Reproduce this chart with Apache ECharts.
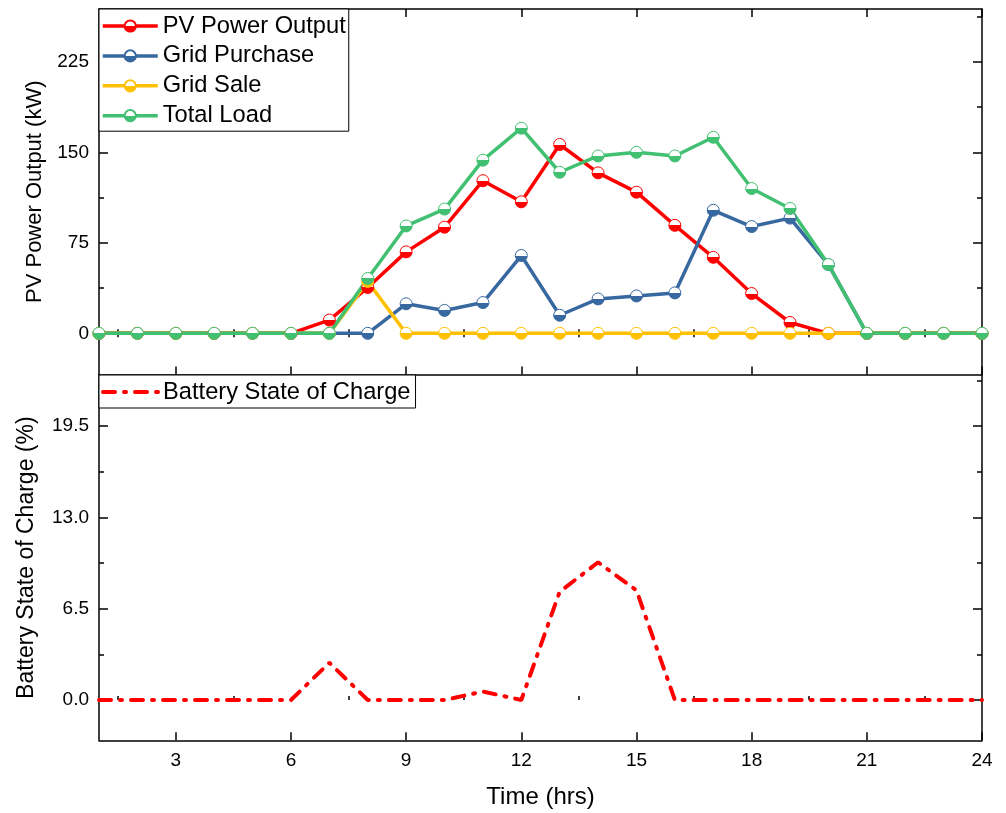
<!DOCTYPE html>
<html>
<head>
<meta charset="utf-8">
<script src="https://cdn.jsdelivr.net/npm/echarts@6/dist/echarts.min.js"></script>
<style>
  html, body { margin: 0; padding: 0; background: #fff; }
  #chart { width: 1006px; height: 813px; }
</style>
</head>
<body>
<div id="chart"></div>
<script>
const hours = [1,2,3,4,5,6,7,8,9,10,11,12,13,14,15,16,17,18,19,20,21,22,23,24];
const pvOutput = [0,0,0,0,0,0,11,38,67.5,88,126.5,109,156.5,133,117,89.5,63,33,9,0,0,0,0,0];
const gridPurchase = [0,0,0,0,0,0,0,0,24.5,19,25.5,64.5,15,28.5,31,33.5,102,88.5,95.5,57,0,0,0,0];
const gridSale = [0,0,0,0,0,0,0,43,0,0,0,0,0,0,0,0,0,0,0,0,0,0,0,0];
const totalLoad = [0,0,0,0,0,0,0,45.5,89,103,143.5,170,133.5,147,150,147,162.5,120,103.5,57,0,0,0,0];
const batterySoc = [0,0,0,0,0,0,2.65,0,0,0,0.6,0,7.7,9.8,7.8,0,0,0,0,0,0,0,0,0];

const xMajor = [3,6,9,12,15,18,21,24];
const xMinor = [1.5,4.5,7.5,10.5,13.5,16.5,19.5,22.5];
const powerMajor = [0,75,150,225];
const powerMinor = [37.5,112.5,187.5,262.5];
const socMajor = [0,6.5,13,19.5];
const socMinor = [3.25,9.75,16.25,22.75];

const FONT = 'Arial, "Liberation Sans", sans-serif';
const chart = echarts.init(document.getElementById('chart'));

function pares(vals) {
  return hours.map((h, i) => [h, vals[i]]);
}

function meioCheio(c) {
  return new echarts.graphic.LinearGradient(0, 0, 0, 1, [
    { offset: 0, color: '#fff' }, { offset: 0.5, color: '#fff' },
    { offset: 0.5, color: c }, { offset: 1, color: c }
  ]);
}

// eixo so com marcas (sem rotulo), usado pras marcas menores e lados opostos
function eixoX(grid, pos, ticks, len, extra) {
  return Object.assign({
    type: 'value', gridIndex: grid, position: pos, min: 1, max: 24,
    axisLine: { show: true, onZero: false, lineStyle: { color: '#000', width: 1.5 } },
    axisTick: { show: true, inside: true, length: len, customValues: ticks, lineStyle: { color: '#000', width: 1.5 } },
    axisLabel: { show: false },
    splitLine: { show: false }
  }, extra || {});
}

function eixoY(grid, pos, min, max, ticks, len, extra) {
  return Object.assign({
    type: 'value', gridIndex: grid, position: pos, min: min, max: max,
    axisLine: { show: true, onZero: false, lineStyle: { color: '#000', width: 1.5 } },
    axisTick: { show: true, inside: true, length: len, customValues: ticks, lineStyle: { color: '#000', width: 1.5 } },
    axisLabel: { show: false },
    splitLine: { show: false }
  }, extra || {});
}

const linhaTop = (nome, vals, c) => ({
  name: nome, type: 'line', xAxisIndex: 0, yAxisIndex: 0,
  data: pares(vals),
  symbol: 'circle', symbolSize: 12, showAllSymbol: true,
  lineStyle: { color: c, width: 3.5 },
  itemStyle: { color: meioCheio(c), borderColor: c, borderWidth: 1 },
  emphasis: { disabled: true }
});

const pMin = -34.1, pMax = 268.8;
const sMin = -2.87, sMax = 23.13;

const option = {
  animation: false,
  textStyle: { fontFamily: FONT },
  grid: [
    { left: 99, top: 9, width: 883, height: 365.5 },
    { left: 99, top: 375, width: 883, height: 365.3 }
  ],
  legend: [
    {
      data: ['PV Power Output', 'Grid Purchase', 'Grid Sale', 'Total Load'],
      orient: 'vertical', left: 99, top: 9,
      padding: [5, 3, 3.5, 2], itemGap: 5.9, itemWidth: 55, itemHeight: 14,
      borderColor: '#000', borderWidth: 1, backgroundColor: '#fff',
      lineStyle: { width: 3.5 },
      textStyle: { fontSize: 23.7, lineHeight: 22, color: '#000', fontFamily: FONT }
    },
    {
      data: ['Battery State of Charge'],
      orient: 'vertical', left: 99, top: 375,
      padding: [5, 5, 4, 2], itemWidth: 55, itemHeight: 14,
      borderColor: '#000', borderWidth: 1, backgroundColor: '#fff',
      itemStyle: { opacity: 0 },
      lineStyle: { width: 4 },
      textStyle: { fontSize: 23.7, lineHeight: 22, color: '#000', fontFamily: FONT }
    }
  ],
  xAxis: [
    eixoX(0, 'bottom', xMajor, 8),
    eixoX(0, 'bottom', xMinor, 4, { axisLine: { show: false } }),
    eixoX(0, 'top', xMajor, 8),
    eixoX(0, 'top', xMinor, 4, { axisLine: { show: false } }),
    eixoX(1, 'bottom', xMajor, 8, {
      name: 'Time (hrs)', nameLocation: 'middle', nameGap: 45,
      nameTextStyle: { fontSize: 24, color: '#000', fontFamily: FONT },
      axisLabel: { show: true, customValues: xMajor, margin: 11, fontSize: 19, color: '#000', fontFamily: FONT }
    }),
    eixoX(1, 'bottom', xMinor, 4, { axisLine: { show: false } })
  ],
  yAxis: [
    eixoY(0, 'left', pMin, pMax, powerMajor, 9, {
      name: 'PV Power Output (kW)', nameLocation: 'middle', nameGap: 37,
      nameTextStyle: { fontSize: 22, color: '#000', fontFamily: FONT },
      axisLabel: { show: true, customValues: powerMajor, margin: 10, fontSize: 19, color: '#000', fontFamily: FONT }
    }),
    eixoY(0, 'left', pMin, pMax, powerMinor, 5, { axisLine: { show: false } }),
    eixoY(0, 'right', pMin, pMax, powerMajor, 9),
    eixoY(0, 'right', pMin, pMax, powerMinor, 5, { axisLine: { show: false } }),
    eixoY(1, 'left', sMin, sMax, socMajor, 9, {
      name: 'Battery State of Charge (%)', nameLocation: 'middle', nameGap: 61,
      nameTextStyle: { fontSize: 23, color: '#000', fontFamily: FONT },
      axisLabel: { show: true, customValues: socMajor, margin: 10, fontSize: 19, color: '#000', fontFamily: FONT,
        formatter: v => v.toFixed(1) }
    }),
    eixoY(1, 'left', sMin, sMax, socMinor, 5, { axisLine: { show: false } }),
    eixoY(1, 'right', sMin, sMax, socMajor, 9),
    eixoY(1, 'right', sMin, sMax, socMinor, 5, { axisLine: { show: false } })
  ],
  series: [
    linhaTop('PV Power Output', pvOutput, '#FF0000'),
    linhaTop('Grid Purchase', gridPurchase, '#3868A0'),
    linhaTop('Grid Sale', gridSale, '#FFC000'),
    linhaTop('Total Load', totalLoad, '#40C070'),
    {
      name: 'Battery State of Charge', type: 'line', xAxisIndex: 4, yAxisIndex: 4,
      data: pares(batterySoc),
      symbol: 'none',
      lineStyle: { color: '#FF0000', width: 4, type: [12, 9, 2, 9], cap: 'round' },
      itemStyle: { color: '#FF0000' },
      emphasis: { disabled: true }
    }
  ]
};

chart.setOption(option);
</script>
</body>
</html>
